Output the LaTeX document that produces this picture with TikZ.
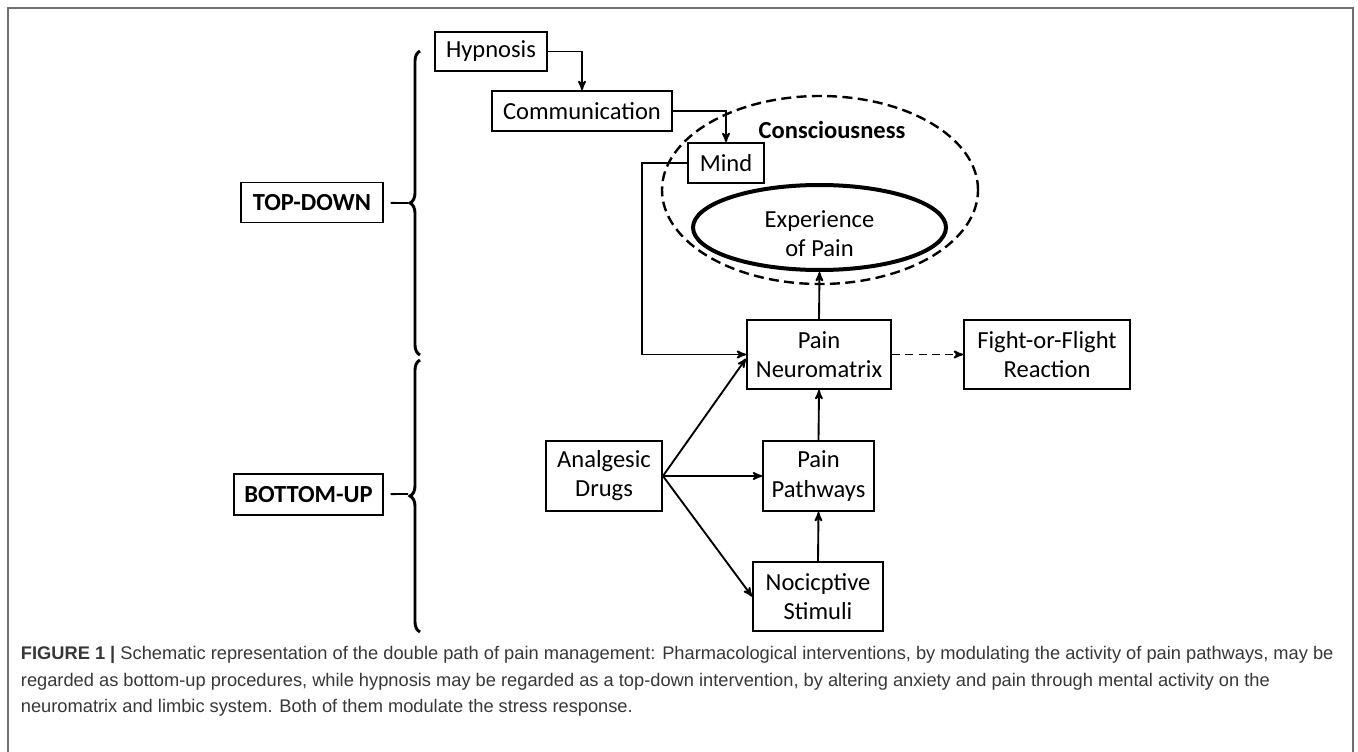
\documentclass[tikz,border=0pt]{standalone}
\usepackage{xcolor}
\usepackage{fontspec}
\setmainfont{Carlito}
\newfontfamily\capfont{Liberation Sans}
\usepackage{tikz}
\usetikzlibrary{arrows, shapes.geometric, decorations.pathreplacing}

\definecolor{framegray}{RGB}{112,112,112}
\definecolor{captext}{RGB}{55,55,55}

\tikzset{
	box/.style={draw, line width=1.4pt, inner sep=1pt, align=center,
		font=\fontsize{18.4}{21.8}\selectfont},
	bracket/.style={-, decorate, decoration={brace, amplitude=7.5pt}, line width=2.2pt},
	captionline/.style={anchor=base west, inner sep=0pt, text=captext,
		font=\capfont\fontsize{13.7}{16}\selectfont}
}

\begin{document}
\begin{tikzpicture}[->,
			>=stealth',
			x=0.75pt, y=-0.75pt,
			line width=1.4pt]
			\useasboundingbox (0,0) rectangle (1358,752);
			\draw[-, framegray, line width=1.5pt] (8,752) -- (8,8) -- (1353,8) -- (1353,752);

			\node at (312,202.5) (td) [box, minimum width=106.5pt, minimum height=30pt] {\bfseries TOP-DOWN};
			\node at (308.5,494.5) (bu) [box, minimum width=111.75pt, minimum height=30.75pt] {\bfseries BOTTOM-UP};
			\node at (491,51.5) (hyp) [box, minimum width=84pt, minimum height=29.25pt] {Hypnosis};
			\node at (582,111) (comm) [box, minimum width=135pt, minimum height=30pt] {Communication};
			\node at (726,163) (mind) [box, minimum width=57pt, minimum height=30pt] {Mind};
			\node at (820,190) (cons) [ellipse, draw, dashed, dash pattern=on 7.5pt off 4pt, line width=1.8pt,
				minimum width=237pt, minimum height=141pt, inner sep=0pt] {};
			\node at (832,130) (constext) [font=\fontsize{18.4}{21.8}\selectfont\bfseries] {Consciousness};
			\node at (819.5,227.5) (exp) [ellipse, draw, line width=3pt, minimum width=189.75pt,
				minimum height=63.75pt, inner sep=0pt] {};
			\node at (819.5,234) (exptext) [box, draw=none] {Experience\\of Pain};
			\node at (819,354.5) (neuro) [box, minimum width=108pt, minimum height=51.75pt] {Pain\\Neuromatrix};
			\node at (1047,354.5) (fight) [box, minimum width=124.5pt, minimum height=51.75pt] {Fight-or-Flight\\Reaction};
			\node at (604,476) (drugs) [box, minimum width=87pt, minimum height=52.5pt] {Analgesic\\Drugs};
			\node at (818.5,476) (paths) [box, minimum width=83.25pt, minimum height=52.5pt] {Pain\\Pathways};
			\node at (818,596.5) (noci) [box, minimum width=97.5pt, minimum height=51.75pt] {Nocicptive\\Stimuli};

			% the two brackets
			\draw[bracket] (420,355) -- (420,51);
			\draw[bracket] (420,632) -- (420,360);
			\coordinate (tdtip) at (408,203);
			\coordinate (butip) at (408,494);
			\draw[-, shorten <=5pt] (td) -- (tdtip);
			\draw[-, shorten <=5pt] (bu) -- (butip);

			\draw[->, black] (hyp.east) -| (comm.north);
			\draw[->, black] (comm.east) -| (mind.north);
			\draw[->, black] (mind.west) -- ++(-45,0) |- (neuro.west);
			\draw[->, black] (neuro.north) -- (exp.south);
			\draw[->, black, dashed, dash pattern=on 6pt off 4pt] (neuro.east) -- (fight.west);
			\draw[->, black] (drugs.east) -- ([yshift=-3pt]neuro.west);
			\draw[->, black] (drugs.east) -- (paths.west);
			\draw[->, black] (drugs.east) -- (noci.west);
			\draw[->, black] (paths.north) -- (neuro.south);
			\draw[->, black] (noci.north) -- (paths.south);

			\node at (20,659) (cap1) [captionline] {\textbf{FIGURE 1 |} Schematic representation of the double path of pain management: Pharmacological interventions, by modulating the activity of pain pathways, may be};
			\node at (20,686) (cap2) [captionline] {regarded as bottom-up procedures, while hypnosis may be regarded as a top-down intervention, by altering anxiety and pain through mental activity on the};
			\node at (20,712) (cap3) [captionline] {neuromatrix and limbic system. Both of them modulate the stress response.};
		\end{tikzpicture}
\end{document}
